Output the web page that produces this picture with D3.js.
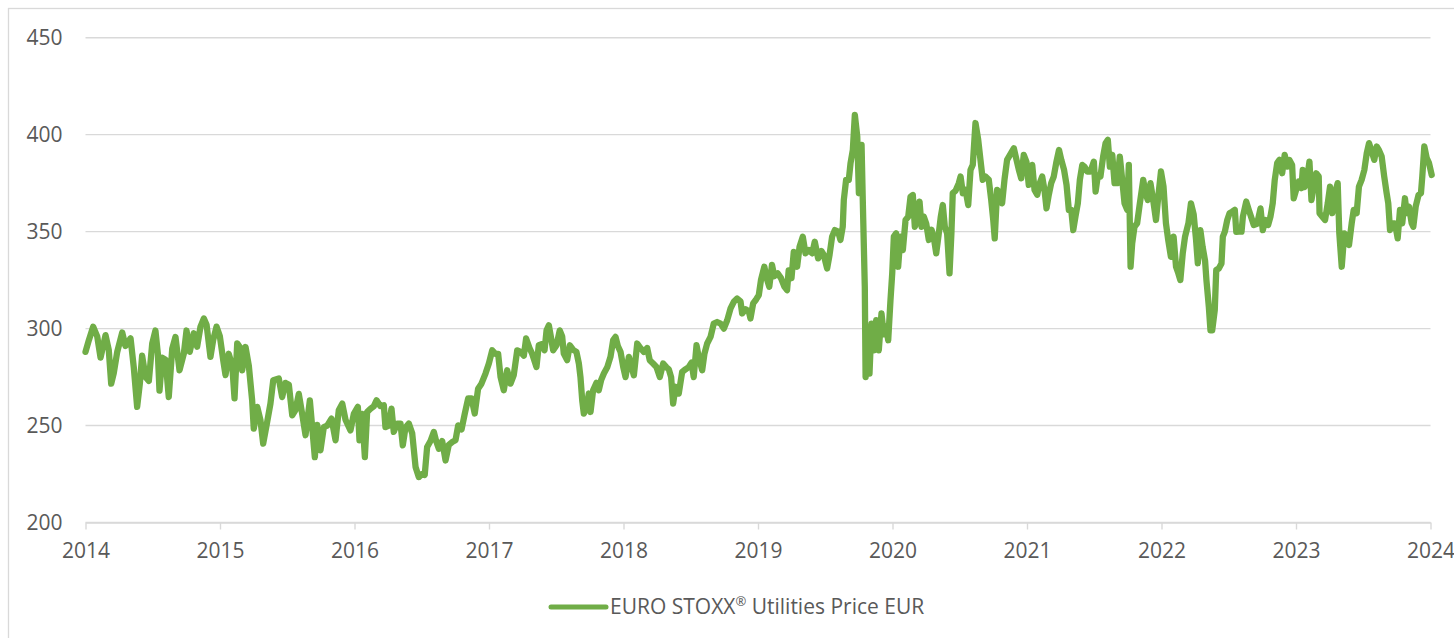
<!DOCTYPE html>
<html>
<head>
<meta charset="utf-8">
<script src="https://cdn.jsdelivr.net/npm/d3@7"></script>
<style>
  body { margin: 0; background: #fff; }
  .axis-label { font-family: "Open Sans", "Liberation Sans", sans-serif; font-size: 21px; fill: #595959; }
</style>
</head>
<body>
<div class="chart-box"></div>
<script>
// year ticks along the bottom and value ticks up the side
var yearTicks = [2014, 2015, 2016, 2017, 2018, 2019, 2020, 2021, 2022, 2023, 2024];
var valueTicks = [200, 250, 300, 350, 400, 450];
var seriesName = "EURO STOXX",
    seriesMark = "\u00AE",
    seriesRest = " Utilities Price EUR";

// price points: [decimal year, index level]
var prices2014_15 = [
  [2014.000,288],[2014.025,294],[2014.057,301],[2014.087,296],[2014.112,285],[2014.149,296.6],[2014.173,289],
  [2014.191,271.6],[2014.210,277],[2014.236,288],[2014.273,298],[2014.297,291],[2014.335,295],[2014.359,280],
  [2014.384,259.6],[2014.404,271.6],[2014.421,286],[2014.446,275],[2014.471,273],[2014.496,292.3],[2014.520,299],
  [2014.538,287],[2014.550,268],[2014.570,285],[2014.595,284],[2014.619,264.7],[2014.645,289.7],[2014.669,295.7],
  [2014.699,278.5],[2014.731,287],[2014.751,299],[2014.775,288],[2014.805,297.6],[2014.830,290.6],[2014.855,301],
  [2014.880,305.2],[2014.900,302],[2014.929,285.4],[2014.949,294],[2014.974,301],[2014.999,296],[2015.024,283.7],
  [2015.041,276],[2015.065,287],[2015.091,281],[2015.108,264],[2015.128,292.4],[2015.152,290],[2015.165,278.5],
  [2015.190,290.5],[2015.214,281],[2015.239,263],[2015.251,248.4],[2015.277,259.6],[2015.301,252.7],[2015.321,240.7],
  [2015.346,250],[2015.375,261.3],[2015.396,273.4],[2015.437,274.3],[2015.462,264.7],[2015.487,272],[2015.512,271],
  [2015.537,255.3],[2015.561,258],[2015.586,266.3],[2015.611,256],[2015.636,245],[2015.668,263]
];
var prices2015_17 = [
  [2015.705,233.7],[2015.723,250.3],[2015.747,237.2],[2015.772,249.2],[2015.797,250],[2015.829,253.6],[2015.859,242.4],
  [2015.883,257.9],[2015.909,261.3],[2015.933,253],[2015.970,247.5],[2015.995,256],[2016.025,259.6],[2016.037,242.4],
  [2016.057,256],[2016.077,233.7],[2016.094,257],[2016.119,258.7],[2016.144,260],[2016.164,263],[2016.193,260],
  [2016.218,260.5],[2016.230,249.2],[2016.255,250],[2016.275,258.7],[2016.292,246.7],[2016.317,251],[2016.342,251],
  [2016.359,239.8],[2016.379,249],[2016.404,251],[2016.429,246],[2016.454,228.6],[2016.478,223.4],[2016.503,225],
  [2016.522,224.5],[2016.540,238.9],[2016.565,242],[2016.590,246.7],[2016.607,242],[2016.627,238],[2016.652,242],
  [2016.677,232],[2016.701,240],[2016.726,241.5],[2016.751,242.4],[2016.771,250.1],[2016.796,248],[2016.820,256.2],
  [2016.845,264],[2016.870,264],[2016.894,256.2],[2016.919,269],[2016.944,271.6],[2016.974,276.8],[2016.999,282],
  [2017.024,288.8],[2017.048,287],[2017.068,287],[2017.086,275],[2017.110,268.2],[2017.135,278.5],[2017.160,271.6],
  [2017.184,276],[2017.210,288.8],[2017.234,288],[2017.259,286],[2017.276,294.9],[2017.301,290],[2017.321,287]
];
var prices2017_19 = [
  [2017.353,280.2],[2017.370,291.4],[2017.395,292],[2017.413,288.8],[2017.428,299.1],[2017.445,301.7],[2017.462,295],
  [2017.477,288.8],[2017.502,291.4],[2017.526,299.1],[2017.544,296],[2017.556,287.1],[2017.581,283.7],[2017.601,291.4],
  [2017.626,289],[2017.650,288],[2017.668,282],[2017.680,275],[2017.693,263],[2017.705,256.2],[2017.725,259],
  [2017.742,266.5],[2017.755,257],[2017.774,268.2],[2017.799,272],[2017.816,268.2],[2017.834,273.5],[2017.854,276.8],
  [2017.879,280],[2017.903,285.4],[2017.923,294],[2017.941,295.7],[2017.958,291],[2017.978,288],[2017.998,280.2],
  [2018.015,275],[2018.040,285.4],[2018.057,281],[2018.077,275.9],[2018.102,292.3],[2018.126,290],[2018.151,288],
  [2018.176,290],[2018.195,283.7],[2018.220,282],[2018.245,280.2],[2018.270,275],[2018.295,282],[2018.320,280],
  [2018.337,279],[2018.354,275],[2018.369,261.3],[2018.387,270],[2018.411,266.5],[2018.436,277.6],[2018.461,279],
  [2018.486,280.2],[2018.506,282.5],[2018.522,275],[2018.543,291.4],[2018.560,285],[2018.585,278.5],[2018.602,287.1],
  [2018.622,292.3],[2018.647,295.7],[2018.671,302.6],[2018.696,303.4],[2018.721,302.6],[2018.746,300],[2018.771,304.3],
  [2018.796,310.4],[2018.820,313.8],[2018.845,315.5],[2018.870,314],[2018.882,307.8],[2018.907,310],[2018.931,309],
  [2018.944,305.2],[2018.964,313],[2018.986,315],[2019.006,317.3]
];
var prices2019_20 = [
  [2019.022,325],[2019.047,331.9],[2019.064,326],[2019.084,321.6],[2019.104,332.8],[2019.121,327],[2019.146,328.5],
  [2019.171,326],[2019.196,321.6],[2019.216,319.8],[2019.228,330],[2019.249,326],[2019.266,339.6],[2019.291,331.9],
  [2019.309,342.2],[2019.333,347.4],[2019.353,338.8],[2019.378,340.5],[2019.403,338.8],[2019.422,344.8],[2019.447,336.2],
  [2019.472,340],[2019.489,338],[2019.514,331],[2019.532,338],[2019.551,347.4],[2019.571,350.8],[2019.596,350],
  [2019.613,345.7],[2019.630,352.5],[2019.638,366.3],[2019.655,376.7],[2019.675,376.7],[2019.688,385.3],[2019.705,392.1],
  [2019.720,410.2],[2019.738,399],[2019.750,369.8],[2019.770,394.7],[2019.779,366.3],[2019.794,321.6],[2019.800,275],
  [2019.812,300.9],[2019.829,276.8],[2019.844,302.6],[2019.861,288.8],[2019.879,304.3],[2019.898,288.8],[2019.918,307.8],
  [2019.935,297],[2019.953,301],[2019.968,294],[2019.985,314.7],[2019.998,328.5],[2020.010,347.4],[2020.027,349.1],
  [2020.042,331.9],[2020.059,347.4],[2020.077,340.5],[2020.097,356],[2020.117,357.7],[2020.134,368],[2020.151,368.9],
  [2020.166,352.5],[2020.184,356],[2020.201,365.5],[2020.216,352.5],[2020.233,357.7],[2020.251,354],[2020.270,345.7],
  [2020.290,351],[2020.307,347],[2020.325,338.8],[2020.344,349],[2020.359,357.7],[2020.374,363.7],[2020.389,352.5],
  [2020.406,349.1],[2020.424,328.5],[2020.438,349.1],[2020.448,369.8],[2020.468,371],[2020.493,375],[2020.506,378.4],
  [2020.523,369.8],[2020.543,371.5],[2020.563,363.7],[2020.580,381.8],[2020.597,384.5],[2020.617,406],[2020.637,397.5],
  [2020.654,387],[2020.671,376.7],[2020.691,378.4]
];
var prices2020_22 = [
  [2020.716,376.7],[2020.734,366.3],[2020.749,356],[2020.760,346.5],[2020.778,371.5],[2020.798,370],[2020.815,364.6],
  [2020.833,377],[2020.852,387],[2020.877,390],[2020.902,393],[2020.922,387],[2020.939,382],[2020.957,377.5],
  [2020.976,389.6],[2020.996,386],[2021.013,374.1],[2021.039,384.4],[2021.056,371.5],[2021.076,369],[2021.095,375],
  [2021.113,378.4],[2021.130,371.5],[2021.145,362],[2021.162,369],[2021.180,375],[2021.199,378.4],[2021.219,386.1],
  [2021.238,392.1],[2021.255,387],[2021.275,382],[2021.294,374.1],[2021.311,361.2],[2021.329,361.2],[2021.344,350.8],
  [2021.361,358],[2021.378,364.6],[2021.393,376.7],[2021.411,384.4],[2021.428,383.5],[2021.448,381],[2021.472,381],
  [2021.497,386.1],[2021.510,370.6],[2021.527,379],[2021.546,378.4],[2021.566,388.7],[2021.584,395.6],[2021.601,397.3],
  [2021.616,383.5],[2021.634,389.6],[2021.651,375],[2021.671,375],[2021.690,388.7],[2021.708,376.7],[2021.725,364.6],
  [2021.745,361.2],[2021.757,384.4],[2021.770,331.9],[2021.782,343.9],[2021.799,352.5],[2021.819,354.3],[2021.839,364.6],
  [2021.864,376.7],[2021.881,369.8],[2021.898,366.3],[2021.918,375],[2021.938,366.3],[2021.959,356],[2021.976,368],
  [2021.996,381],[2022.015,373.2],[2022.033,354.3],[2022.050,345.7],[2022.070,337],[2022.090,347.4],[2022.108,331.9],
  [2022.125,328.5],[2022.140,325],[2022.158,338.8],[2022.175,347.4],[2022.200,354.3],[2022.219,364.6],[2022.239,359],
  [2022.257,345.7],[2022.270,333.7],[2022.289,350.8],[2022.306,342],[2022.324,335],[2022.334,325],[2022.352,311.2],
  [2022.364,299.1]
];
var prices2022_24 = [
  [2022.377,299.1],[2022.396,309.5],[2022.407,330.2],[2022.426,331],[2022.446,333.6],[2022.456,347.4],[2022.471,350],
  [2022.489,356],[2022.506,359.5],[2022.526,360.3],[2022.545,361.2],[2022.556,349.9],[2022.575,350],[2022.595,350],
  [2022.605,357.7],[2022.630,365.5],[2022.649,361.2],[2022.669,357],[2022.686,353.4],[2022.711,354],[2022.736,362],
  [2022.753,350.8],[2022.773,356],[2022.793,353.4],[2022.810,357.7],[2022.827,364.6],[2022.842,376.7],[2022.860,385.3],
  [2022.877,387],[2022.897,380.1],[2022.916,389.6],[2022.934,383.5],[2022.951,387],[2022.971,384.4],[2022.983,367.2],
  [2023.001,371.5],[2023.020,375.8],[2023.040,372.4],[2023.050,381.8],[2023.065,373],[2023.083,377.5],[2023.100,386.1],
  [2023.115,366.3],[2023.132,373],[2023.150,380.1],[2023.169,378.4],[2023.175,359.5],[2023.196,357.7],[2023.216,356],
  [2023.236,364.6],[2023.253,373.2],[2023.270,359.5],[2023.290,369.8],[2023.310,375],[2023.322,349.1],[2023.340,331.9],
  [2023.359,349.1],[2023.377,347.4],[2023.394,343.1],[2023.414,354.3],[2023.429,361.2],[2023.451,359.5],[2023.468,373.2],
  [2023.488,376.7],[2023.508,381.8],[2023.526,390.4],[2023.543,395.6],[2023.563,391.3],[2023.582,387],[2023.600,393.9],
  [2023.617,392],[2023.637,388.7],[2023.656,378.4],[2023.674,369.8],[2023.686,364.6],[2023.699,350.8],[2023.716,354.3],
  [2023.736,354.3],[2023.756,346.5],[2023.773,361.2],[2023.790,354.3],[2023.810,367.2],[2023.823,359.5],[2023.840,362.9],
  [2023.860,354.3],[2023.872,352.5],[2023.890,362.9],[2023.911,368.9],[2023.929,369.8],[2023.939,378.4],[2023.954,393.9],
  [2023.972,387.9],[2023.989,385.3],[2024.009,379.2]
];

var prices = [].concat(prices2014_15, prices2015_17, prices2017_19, prices2019_20, prices2020_22, prices2022_24);

var viewbox_width = 1454,
    viewbox_height = 638;
var plot = {left: 85.5, right: 1430.5, top: 37.7, bottom: 522.5};
var lineColor = "#70ad47",
    gridColor = "#d9d9d9";

var svg = d3.select(".chart-box")
  .append("svg")
    .attr("width", viewbox_width)
    .attr("height", viewbox_height)
    .style("display", "block");

svg.append("rect")
    .attr("width", viewbox_width)
    .attr("height", viewbox_height)
    .attr("fill", "#fff");

// outer chart border (runs off the right and bottom of the picture)
svg.append("rect")
    .attr("x", 8.5)
    .attr("y", 8.5)
    .attr("width", viewbox_width + 20)
    .attr("height", viewbox_height + 20)
    .attr("fill", "none")
    .attr("stroke", gridColor)
    .attr("stroke-width", 1.3);

// scales
var xScale = d3.scaleLinear().domain([2014, 2024]).range([plot.left, plot.right]),
    yScale = d3.scaleLinear().domain([200, 450]).range([plot.bottom, plot.top]);

// horizontal gridlines
svg.append("g")
    .attr("class", "grid")
    .selectAll("line")
    .data(valueTicks)
  .enter().append("line")
    .attr("x1", plot.left)
    .attr("x2", plot.right)
    .attr("y1", function(d) { return yScale(d); })
    .attr("y2", function(d) { return yScale(d); })
    .attr("stroke", gridColor)
    .attr("stroke-width", 1.4);

// y axis: labels only
var yAxis = d3.axisLeft(yScale)
    .tickValues(valueTicks)
    .tickSize(0)
    .tickPadding(23);
var yaxisg = svg.append("g")
    .attr("transform", "translate(" + plot.left + ",0)")
    .call(yAxis);
yaxisg.select(".domain").remove();
yaxisg.selectAll("text").attr("class", "axis-label").attr("fill", null).attr("font-size", null).attr("font-family", null);

// x axis with year ticks
var xAxis = d3.axisBottom(xScale)
    .tickValues(yearTicks)
    .tickFormat(d3.format("d"))
    .tickSizeInner(7)
    .tickSizeOuter(0)
    .tickPadding(14);
var xaxisg = svg.append("g")
    .attr("transform", "translate(0," + plot.bottom + ")")
    .call(xAxis);
xaxisg.select(".domain").attr("stroke", gridColor).attr("stroke-width", 1.4);
xaxisg.selectAll(".tick line").attr("stroke", gridColor).attr("stroke-width", 1.4);
xaxisg.selectAll("text").attr("class", "axis-label").attr("fill", null).attr("font-size", null).attr("font-family", null);

// price line
var line = d3.line()
    .x(function(d) { return xScale(d[0]); })
    .y(function(d) { return yScale(d[1]); });

svg.append("path")
    .datum(prices)
    .attr("d", line)
    .attr("fill", "none")
    .attr("stroke", lineColor)
    .attr("stroke-width", 6.3)
    .attr("stroke-linejoin", "round")
    .attr("stroke-linecap", "round");

// legend
var legend = svg.append("g")
    .attr("transform", "translate(551,607)");
legend.append("line")
    .attr("x1", 0)
    .attr("x2", 55)
    .attr("stroke", lineColor)
    .attr("stroke-width", 5)
    .attr("stroke-linecap", "round");
var legendText = legend.append("text")
    .attr("class", "axis-label")
    .attr("x", 59)
    .attr("y", 7);
legendText.append("tspan").text(seriesName);
// registered mark sits raised and smaller
legendText.append("tspan")
    .attr("font-size", "13px")
    .attr("dy", -8)
    .text(seriesMark);
legendText.append("tspan")
    .attr("dy", 8)
    .text(seriesRest);
</script>
</body>
</html>
